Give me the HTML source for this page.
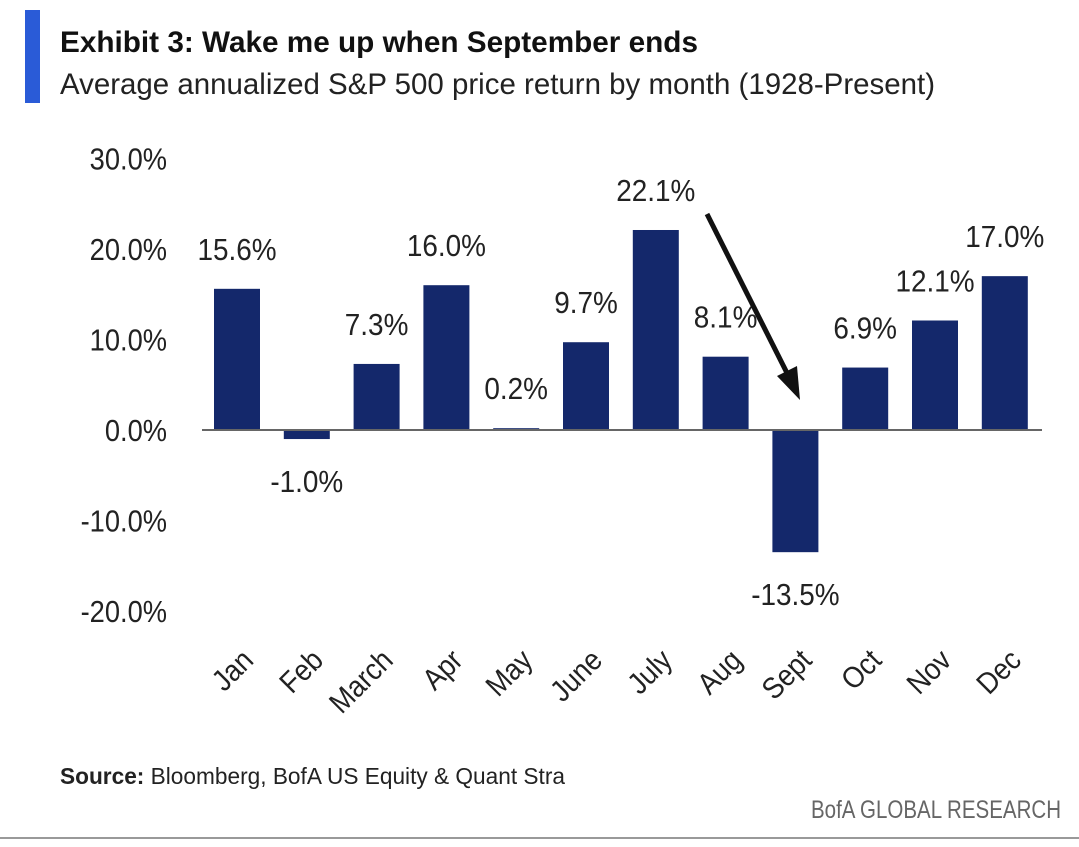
<!DOCTYPE html>
<html><head><meta charset="utf-8">
<style>
body{margin:0;background:#fff;width:1079px;height:842px;overflow:hidden;font-family:"Liberation Sans",sans-serif;}
svg text{font-family:"Liberation Sans",sans-serif;}
</style></head><body>
<svg width="1079" height="842">
<rect x="25" y="10" width="15" height="93" fill="#2a5bd7"/>
<text x="60" y="52" font-size="30" font-weight="bold" fill="#111" textLength="638" lengthAdjust="spacingAndGlyphs">Exhibit 3: Wake me up when September ends</text>
<text x="60" y="94" font-size="30" fill="#222" textLength="875" lengthAdjust="spacingAndGlyphs">Average annualized S&amp;P 500 price return by month (1928-Present)</text>
<g id="yaxis"></g>
<g id="bars"></g>
<line x1="202" y1="430" x2="1042" y2="430" stroke="#666" stroke-width="2"/>
<g>
<line x1="707" y1="214" x2="787" y2="373" stroke="#111" stroke-width="5"/>
<polygon points="800,400 777,376 797,366" fill="#111"/>
</g>
<text x="60" y="784" font-size="23" fill="#222" textLength="505" lengthAdjust="spacingAndGlyphs"><tspan font-weight="bold">Source:</tspan> Bloomberg, BofA US Equity &amp; Quant Stra</text>
<text x="1061" y="818" font-size="25" fill="#666" text-anchor="end" textLength="250" lengthAdjust="spacingAndGlyphs">BofA GLOBAL RESEARCH</text>
<line x1="0" y1="838" x2="1079" y2="838" stroke="#999" stroke-width="2"/>
</svg>
<script>
const months=["Jan","Feb","March","Apr","May","June","July","Aug","Sept","Oct","Nov","Dec"];
const values=[15.6,-1.0,7.3,16.0,0.2,9.7,22.1,8.1,-13.5,6.9,12.1,17.0];
const ticks=[30,20,10,0,-10,-20];
const NS="http://www.w3.org/2000/svg";
const y0=430,pxPer=9.05;
const yS=v=>y0-v*pxPer;
const xS=i=>237+i*69.8;
const bw=46;
function mk(t,a,p){const e=document.createElementNS(NS,t);for(const k in a)e.setAttribute(k,a[k]);p.appendChild(e);return e;}
const ya=document.getElementById('yaxis'),bg=document.getElementById('bars');
ticks.forEach(t=>{const e=mk('text',{x:167,y:yS(t)+11,'font-size':31,'text-anchor':'end',fill:'#222',transform:`translate(167,0) scale(0.88,1) translate(-167,0)`},ya);e.textContent=t.toFixed(1)+'%';

});
values.forEach((v,i)=>{
const cx=xS(i),top=Math.min(yS(v),y0),h=Math.max(Math.abs(yS(v)-y0),1.5);
const r=mk('rect',{x:cx-bw/2,y:top,width:bw,height:h,fill:'#14286b'},bg);


const ly=v>=0?yS(v)-40+11:yS(v)+42+11;
const l=mk('text',{x:cx,y:ly,'font-size':31,'text-anchor':'middle',fill:'#222',transform:`translate(${cx},0) scale(0.9,1) translate(${-cx},0)`},bg);l.textContent=v.toFixed(1)+'%';


const m=mk('text',{x:0,y:0,'font-size':30,'text-anchor':'end',fill:'#222',transform:`translate(${cx+18},${662}) rotate(-45) scale(0.9,1)`},bg);m.textContent=months[i];


});
</script>
</body></html>
